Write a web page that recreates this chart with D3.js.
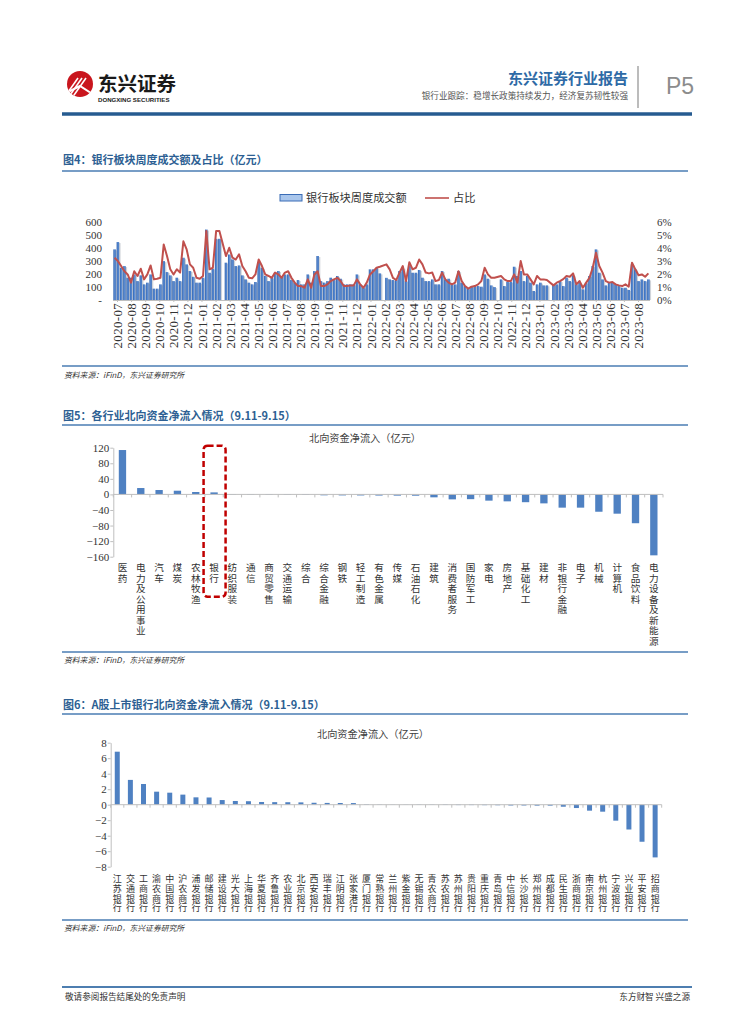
<!DOCTYPE html>
<html><head><meta charset="utf-8">
<script src="https://cdn.jsdelivr.net/npm/d3@7"></script>
<style>body{margin:0;background:#fff} svg{display:block}
.vt{writing-mode:vertical-rl;text-orientation:upright;}</style>
</head><body>
<svg id="page" width="755" height="1024"></svg>
<script>
// ---------------- DATA ----------------
// Fig.4 weekly bank-sector turnover (亿元) and its share of market turnover (%)
const weeklyAmount = [
 388,444,247,260,171,171,196,145,189,120,133,196,87,87,120,298,214,189,145,171,145,
 324,273,222,178,133,133,171,540,209,240,469,469,null,286,349,311,260,265,189,158,133,
 120,138,286,247,184,145,171,209,222,184,196,196,153,133,153,120,120,196,133,222,
 337,145,133,145,171,158,184,163,120,120,120,120,196,120,94,120,235,235,247,204,null,
 170,158,153,158,222,247,145,260,209,209,230,171,145,145,158,120,120,222,158,163,120,
 120,222,133,107,87,102,107,107,102,196,163,112,99,null,158,107,138,138,255,184,222,
 145,184,133,69,120,133,112,112,null,120,120,145,107,171,145,189,120,133,82,133,
 184,260,388,209,158,112,138,138,120,107,94,94,77,273,235,145,158,145,158
];
const weeklyRatio = [
 3.24,2.98,2.6,2.2,1.96,1.33,2.2,1.84,2.4,1.58,1.96,2.65,1.58,1.63,1.7,4.26,3.37,2.35,1.96,2.35,2.1,
 4.5,3.88,2.73,2.47,1.7,1.63,1.84,5.28,2.35,2.47,5.28,5.28,null,3.37,4.0,3.24,3.1,3.5,2.6,2.2,1.7,
 1.66,1.96,3.1,2.6,1.96,1.84,1.7,2.1,1.96,1.7,2.1,2.2,1.7,1.33,1.07,1.07,0.94,1.58,0.94,1.96,
 2.2,1.07,1.07,1.2,1.45,1.58,1.7,1.45,1.07,1.07,1.12,1.12,1.58,1.2,0.94,1.33,1.96,2.2,2.47,2.55,null,
 2.73,2.35,1.7,1.53,2.1,2.6,1.45,2.9,2.35,2.47,3.1,2.73,2.1,2.04,2.1,1.45,1.53,2.1,1.58,1.33,1.2,
 1.33,2.2,1.45,1.07,0.87,1.02,1.07,1.2,1.45,2.47,1.96,1.7,1.7,null,1.84,1.58,1.45,1.45,1.96,1.33,2.98,
 1.96,1.96,1.58,1.2,1.84,1.58,1.58,1.53,null,1.12,1.33,1.45,1.6,1.84,1.78,2.04,1.2,1.45,0.94,1.33,
 1.7,2.47,3.62,2.6,2.1,1.45,1.33,1.38,1.2,1.12,1.07,1.2,1.02,2.86,2.35,1.89,1.96,1.78,2.04
];
const monthLabels = [
 "2020-07","2020-08","2020-09","2020-10","2020-11","2020-12",
 "2021-01","2021-02","2021-03","2021-04","2021-05","2021-06","2021-07","2021-08","2021-09","2021-10","2021-11","2021-12",
 "2022-01","2022-02","2022-03","2022-04","2022-05","2022-06","2022-07","2022-08","2022-09","2022-10","2022-11","2022-12",
 "2023-01","2023-02","2023-03","2023-04","2023-05","2023-06","2023-07","2023-08"
];
const amountTicks = [0,100,200,300,400,500,600];
const ratioTicks = [0,1,2,3,4,5,6];

// Fig.5 northbound net inflow by industry (亿元)
const industries = ["医药","电力及公用事业","汽车","煤炭","农林牧渔","银行","纺织服装","通信","商贸零售","交通运输",
 "综合","综合金融","钢铁","轻工制造","有色金属","传媒","石油石化","建筑","消费者服务","国防军工",
 "家电","房地产","基础化工","建材","非银行金融","电子","机械","计算机","食品饮料","电力设备及新能源"];
const industryFlow = [114,16.4,11.3,9.5,6.2,5.2,-1,-1,-1.1,-1.2,
 -1.3,-2.3,-2.5,-2.6,-2.9,-3.1,-3.3,-7.5,-12.7,-12.2,
 -16,-17.8,-20,-23,-34,-34,-44.5,-49.5,-74,-156.5];
const industryTicks = [-160,-120,-80,-40,0,40,80,120];

// Fig.6 northbound net inflow by listed bank (亿元)
const banks = ["江苏银行","交通银行","工商银行","渝农商行","中国银行","沪农商行","浦发银行","邮储银行","建设银行","光大银行",
 "上海银行","华夏银行","齐鲁银行","农业银行","北京银行","西安银行","瑞丰银行","江阴银行","张家港行","厦门银行",
 "常熟银行","兰州银行","紫金银行","无锡银行","青农商行","苏农银行","苏州银行","贵阳银行","重庆银行","青岛银行",
 "中信银行","长沙银行","郑州银行","成都银行","民生银行","浙商银行","南京银行","杭州银行","宁波银行","兴业银行",
 "平安银行","招商银行"];
const bankFlow = [6.84,3.2,2.67,1.68,1.55,1.3,0.95,0.93,0.6,0.48,
 0.45,0.35,0.33,0.32,0.3,0.25,0.23,0.22,0.21,0.05,
 0.03,0.02,-0.02,-0.03,-0.03,-0.04,-0.05,-0.05,-0.06,-0.07,
 -0.1,-0.1,-0.12,-0.12,-0.26,-0.43,-0.77,-0.9,-2.06,-3.2,
 -4.78,-6.8];
const bankTicks = [-8,-6,-4,-2,0,2,4,6,8];

// ---------------- STYLE ----------------
const CJK = "'Noto Sans CJK SC','Noto Sans',sans-serif";
const SERIF = "'Liberation Serif','DejaVu Serif',serif";
const BLUE_TITLE = "#2d5f93";
const RULE = "#4a7db3";
const BAR = "#4f81c2";

const svg = d3.select("#page");
const defs = svg.append("defs");
const grad = defs.append("linearGradient").attr("id","barGrad").attr("x1","0").attr("x2","1").attr("y1","0").attr("y2","0");
grad.append("stop").attr("offset","0%").attr("stop-color","#2f62ad");
grad.append("stop").attr("offset","60%").attr("stop-color","#5e8fd6");
grad.append("stop").attr("offset","100%").attr("stop-color","#3a6cb6");

// ---------------- HEADER ----------------
const hdr = svg.append("g");
defs.append("clipPath").attr("id","logoClip").append("circle").attr("cx",80).attr("cy",84).attr("r",13);
hdr.append("circle").attr("cx",80).attr("cy",84).attr("r",13).attr("fill","#c9161e");
const lg = hdr.append("g").attr("clip-path","url(#logoClip)").attr("stroke","#fff").attr("stroke-width",1.6).attr("fill","none");
[-6,-2,2].forEach(dx => {
  lg.append("path").attr("d",`M${70+dx},${98} L${84+dx},${78}`);
});
lg.append("path").attr("d","M68,92 L80,86 L94,95").attr("stroke-width",2);
hdr.append("text").attr("x",98).attr("y",91).attr("font-family",CJK).attr("font-weight",700)
  .attr("font-size",19.5).attr("fill","#1a1a1a").text("东兴证券");
hdr.append("text").attr("x",98).attr("y",101.5).attr("font-family","'Liberation Sans',Arial,sans-serif").attr("font-weight",700)
  .attr("font-size",6.1).attr("fill","#1a1a1a").text("DONGXING SECURITIES");
hdr.append("text").attr("x",628).attr("y",84).attr("text-anchor","end").attr("font-family",CJK).attr("font-weight",700)
  .attr("font-size",15).attr("fill","#2e6aa6").text("东兴证券行业报告");
hdr.append("text").attr("x",628).attr("y",98.5).attr("text-anchor","end").attr("font-family",CJK)
  .attr("font-size",8.6).attr("fill","#555").text("银行业跟踪：稳增长政策持续发力，经济复苏韧性较强");
hdr.append("line").attr("x1",638).attr("x2",638).attr("y1",66).attr("y2",108).attr("stroke","#a6a6a6").attr("stroke-width",1.5);
hdr.append("text").attr("x",666).attr("y",94).attr("font-family","'Liberation Sans',Arial,sans-serif")
  .attr("font-size",23).attr("fill","#8c8c8c").text("P5");
hdr.append("line").attr("x1",62).attr("x2",692).attr("y1",114).attr("y2",114).attr("stroke","#265b90").attr("stroke-width",3.5);

// section helpers
function sectionTitle(text, y, lineY) {
  svg.append("text").attr("x",63).attr("y",y).attr("font-family",CJK).attr("font-weight",700)
    .attr("font-size",11).attr("fill",BLUE_TITLE).text(text);
  svg.append("line").attr("x1",62).attr("x2",688).attr("y1",lineY).attr("y2",lineY).attr("stroke",RULE).attr("stroke-width",1.5);
}
function sourceNote(lineY, textY) {
  svg.append("line").attr("x1",62).attr("x2",688).attr("y1",lineY).attr("y2",lineY).attr("stroke",RULE).attr("stroke-width",1.5);
  svg.append("text").attr("x",64).attr("y",textY).attr("font-family",CJK).attr("font-style","italic")
    .attr("font-size",7.8).attr("fill","#333").text("资料来源：iFinD，东兴证券研究所");
}
function styleAxis(g, size) {
  g.selectAll("text").attr("font-family",SERIF).attr("font-size",size).attr("fill","#333");
  g.selectAll("line").attr("stroke","#bfbfbf");
  g.select(".domain").attr("stroke","#bfbfbf");
}

// ---------------- FIG 4 ----------------
sectionTitle("图4：银行板块周度成交额及占比（亿元）", 164, 171);
{
  const g = svg.append("g");
  const N = weeklyAmount.length;
  const x = d3.scaleBand().domain(d3.range(N)).range([113,650]).paddingInner(0.22).paddingOuter(0.1);
  const xm = d3.scalePoint().domain(monthLabels).range([117,638]);
  const y = d3.scaleLinear().domain([0,600]).range([300,221.7]);
  const yr = d3.scaleLinear().domain([0,6]).range([300,221.7]);

  g.append("rect").attr("x",280).attr("y",194.5).attr("width",22).attr("height",6.5)
    .attr("fill","#a9c6ec").attr("stroke","#3a6cb6").attr("stroke-width",1);
  g.append("text").attr("x",306).attr("y",202).attr("font-family",CJK).attr("font-size",11.2).attr("fill","#333").text("银行板块周度成交额");
  g.append("line").attr("x1",425).attr("x2",449).attr("y1",198).attr("y2",198).attr("stroke","#c0504d").attr("stroke-width",1.6);
  g.append("text").attr("x",453).attr("y",202).attr("font-family",CJK).attr("font-size",11.2).attr("fill","#333").text("占比");

  const idx = d3.range(N).filter(i => weeklyAmount[i] != null);
  g.append("g").selectAll("rect").data(idx).join("rect")
    .attr("x", i => x(i)+0.8).attr("y", i => y(weeklyAmount[i])+1).attr("width", x.bandwidth()+0.6)
    .attr("height", i => 300 - y(weeklyAmount[i]) - 1).attr("fill","#d0d4da");
  g.append("g").selectAll("rect").data(idx).join("rect")
    .attr("x", i => x(i)).attr("y", i => y(weeklyAmount[i])).attr("width", x.bandwidth())
    .attr("height", i => 300 - y(weeklyAmount[i])).attr("fill","url(#barGrad)");

  const ridx = d3.range(N).filter(i => weeklyRatio[i] != null);
  const line = d3.line().x(i => x(i)+x.bandwidth()/2).y(i => yr(weeklyRatio[i]));
  g.append("path").datum(ridx).attr("d",line).attr("fill","none").attr("stroke","#c0504d")
    .attr("stroke-width",2).attr("stroke-linejoin","round");

  const ax = g.append("g").attr("transform","translate(0,300)")
    .call(d3.axisBottom(xm).tickSize(2).tickSizeOuter(0));
  styleAxis(ax, 13);
  ax.select(".domain").attr("d","M113,0.5H650");
  ax.selectAll("text").attr("transform","rotate(-90)").attr("x",-3).attr("y",0).attr("dy","0.35em")
    .attr("text-anchor","end").attr("letter-spacing",0.3);

  const ay = g.append("g").attr("transform","translate(104,0)")
    .call(d3.axisLeft(y).tickValues(amountTicks).tickSize(0).tickPadding(2).tickFormat(d => d === 0 ? "-" : d));
  styleAxis(ay, 11); ay.select(".domain").remove();
  const ay2 = g.append("g").attr("transform","translate(655,0)")
    .call(d3.axisRight(yr).tickValues(ratioTicks).tickSize(0).tickPadding(2).tickFormat(d => d + "%"));
  styleAxis(ay2, 11); ay2.select(".domain").remove();
}
sourceNote(366, 378);

// vertical label helper: upright characters in a single vertical text run
function vLabel(g, text, cx, yTop, step, size) {
  g.append("text").attr("class","vt").attr("x",cx).attr("y",yTop)
    .attr("font-family",CJK).attr("font-size",size).attr("fill","#333")
    .style("letter-spacing", (step - size) + "px").text(text);
}

// ---------------- FIG 5 ----------------
sectionTitle("图5：各行业北向资金净流入情况（9.11-9.15）", 420, 425);
{
  const g = svg.append("g");
  g.append("text").attr("x",365).attr("y",442).attr("text-anchor","middle").attr("font-family",CJK)
    .attr("font-size",10.2).attr("fill","#404040").text("北向资金净流入（亿元）");
  const x = d3.scaleBand().domain(industries).range([113.3,663]).paddingInner(0.6).paddingOuter(0.3);
  const y = d3.scaleLinear().domain([-160,120]).range([556.7,447.7]);
  g.append("g").selectAll("rect").data(industries).join("rect")
    .attr("x", d => x(d)).attr("width", x.bandwidth())
    .attr("y", (d,i) => y(Math.max(0,industryFlow[i])))
    .attr("height", (d,i) => Math.abs(y(industryFlow[i]) - y(0)))
    .attr("fill", BAR);
  const ay = g.append("g").attr("transform","translate(113.3,0)")
    .call(d3.axisLeft(y).tickValues(industryTicks).tickSize(3).tickPadding(1).tickSizeOuter(0));
  styleAxis(ay, 11);
  const off = (x.step() - x.bandwidth())/2;
  const bounds = industries.map(d => x(d) - off).concat([x(industries[industries.length-1]) + x.bandwidth() + off]);
  g.append("line").attr("x1",113.3).attr("x2",663).attr("y1",y(0)).attr("y2",y(0)).attr("stroke","#bfbfbf");
  g.append("g").selectAll("line").data(bounds).join("line")
    .attr("x1",d=>d).attr("x2",d=>d).attr("y1",y(0)).attr("y2",y(0)+3).attr("stroke","#bfbfbf");
  industries.forEach(d => vLabel(g, d, x(d)+x.bandwidth()/2, 563, 10.5, 9.6));
  const cx = x("银行") + x.bandwidth()/2;
  g.append("rect").attr("x",cx-10.5).attr("y",y(120)-2).attr("width",22).attr("height",596.7-(y(120)-2))
    .attr("rx",4).attr("fill","none").attr("stroke","#c00000").attr("stroke-width",2.5).attr("stroke-dasharray","6,3");
}
sourceNote(652, 663);

// ---------------- FIG 6 ----------------
sectionTitle("图6：A股上市银行北向资金净流入情况（9.11-9.15）", 709, 714);
{
  const g = svg.append("g");
  g.append("text").attr("x",373).attr("y",738).attr("text-anchor","middle").attr("font-family",CJK)
    .attr("font-size",10.2).attr("fill","#404040").text("北向资金净流入（亿元）");
  const x = d3.scaleBand().domain(banks).range([110.7,661.7]).paddingInner(0.62).paddingOuter(0.31);
  const y = d3.scaleLinear().domain([-8,8]).range([866.7,742.7]);
  g.append("g").selectAll("rect").data(banks).join("rect")
    .attr("x", d => x(d)).attr("width", x.bandwidth())
    .attr("y", (d,i) => y(Math.max(0,bankFlow[i])))
    .attr("height", (d,i) => Math.abs(y(bankFlow[i]) - y(0)))
    .attr("fill", BAR);
  const ay = g.append("g").attr("transform","translate(110.7,0)")
    .call(d3.axisLeft(y).tickValues(bankTicks).tickSize(3).tickPadding(1).tickSizeOuter(0));
  styleAxis(ay, 11);
  const off = (x.step() - x.bandwidth())/2;
  const bounds = banks.map(d => x(d) - off).concat([x(banks[banks.length-1]) + x.bandwidth() + off]);
  g.append("line").attr("x1",110.7).attr("x2",661.7).attr("y1",y(0)).attr("y2",y(0)).attr("stroke","#bfbfbf");
  g.append("g").selectAll("line").data(bounds).join("line")
    .attr("x1",d=>d).attr("x2",d=>d).attr("y1",y(0)).attr("y2",y(0)+3).attr("stroke","#bfbfbf");
  banks.forEach(d => vLabel(g, d, x(d)+x.bandwidth()/2, 874, 9.8, 9.0));
}
sourceNote(920, 931);

// ---------------- FOOTER ----------------
svg.append("line").attr("x1",62).attr("x2",692).attr("y1",987).attr("y2",987).attr("stroke","#4d7eb0").attr("stroke-width",2);
svg.append("text").attr("x",65).attr("y",1000).attr("font-family",CJK).attr("font-size",8.6).attr("fill","#333").text("敬请参阅报告结尾处的免责声明");
svg.append("text").attr("x",690).attr("y",1000).attr("text-anchor","end").attr("font-family",CJK).attr("font-size",8.6).attr("fill","#333").text("东方财智 兴盛之源");
</script>
</body></html>
